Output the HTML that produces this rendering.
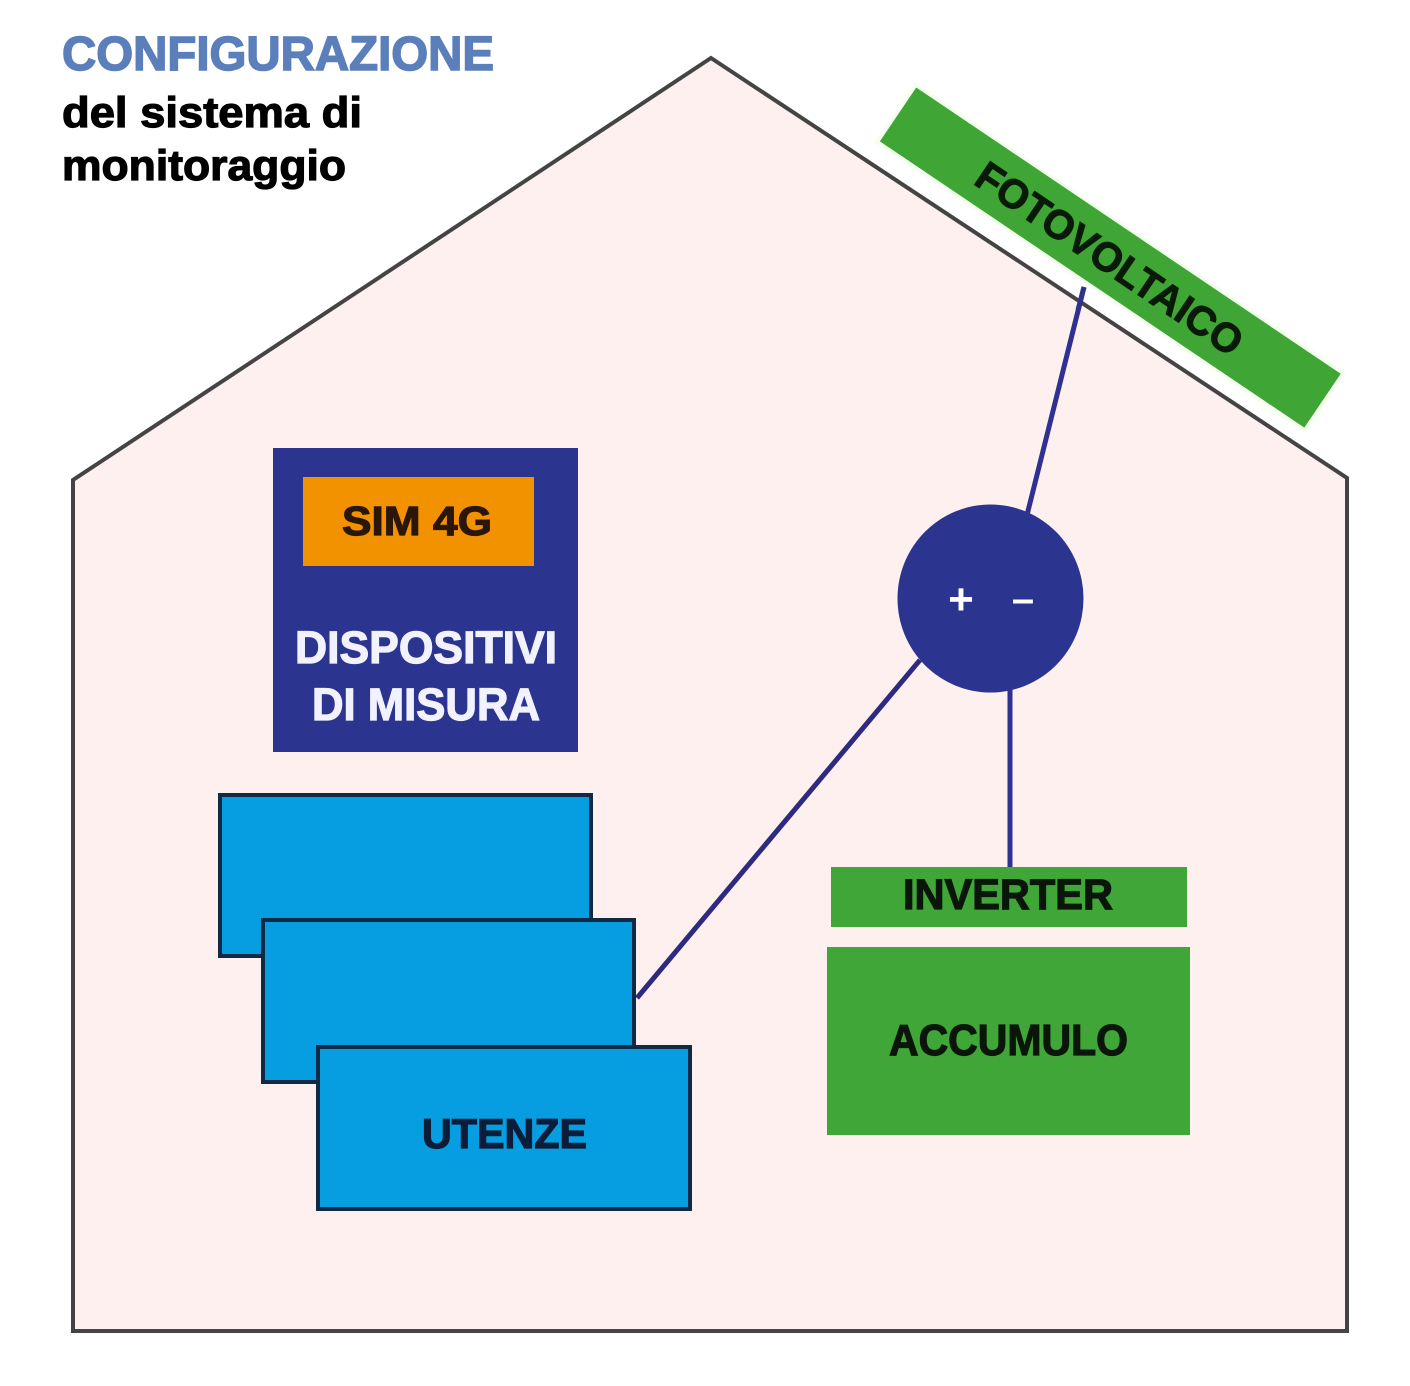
<!DOCTYPE html>
<html>
<head>
<meta charset="utf-8">
<style>
  html, body { margin:0; padding:0; background:#ffffff; }
  body { width:1410px; height:1386px; overflow:hidden; }
  svg { display:block; }
  text { font-family: "Liberation Sans", "DejaVu Sans", sans-serif; font-weight:bold; }
</style>
</head>
<body>
<svg width="1410" height="1386" viewBox="0 0 1410 1386" xmlns="http://www.w3.org/2000/svg">
  <rect x="0" y="0" width="1410" height="1386" fill="#ffffff"/>

  <!-- Title -->
  <text x="62" y="70" font-size="48" fill="#5b7fba" stroke="#5b7fba" stroke-width="1.5" textLength="432" lengthAdjust="spacingAndGlyphs">CONFIGURAZIONE</text>
  <text x="62" y="127" font-size="43" fill="#000000" stroke="#000000" stroke-width="1.2" textLength="300" lengthAdjust="spacingAndGlyphs">del sistema di</text>
  <text x="62" y="180" font-size="43" fill="#000000" stroke="#000000" stroke-width="1.2" textLength="284" lengthAdjust="spacingAndGlyphs">monitoraggio</text>

  <!-- House -->
  <polygon points="711,58 1347,478 1347,1331 73,1331 73,480" fill="#fdf0ee" stroke="#444444" stroke-width="4" stroke-linejoin="miter"/>

  <!-- Connectors -->
  <line x1="1084" y1="287" x2="1027" y2="515" stroke="#2e3192" stroke-width="5"/>
  <line x1="920" y1="660" x2="637" y2="998" stroke="#2e2a80" stroke-width="5"/>
  <line x1="1010" y1="688" x2="1010" y2="868" stroke="#2e3192" stroke-width="5"/>

  <!-- Fotovoltaico panel -->
  <g transform="translate(1110,258) rotate(34)">
    <rect x="-258" y="-35" width="516" height="69" fill="#3fa535" stroke="#f4fff0" stroke-width="4"/>
    <text x="0" y="15" font-size="41" fill="#0a1a08" stroke="#0a1a08" stroke-width="1" text-anchor="middle" textLength="312" lengthAdjust="spacingAndGlyphs">FOTOVOLTAICO</text>
  </g>
  <line x1="1084" y1="287" x2="1078" y2="310" stroke="#2e3192" stroke-width="5"/>

  <!-- Circle +/- -->
  <ellipse cx="990.5" cy="598.5" rx="93" ry="94" fill="#2b3590"/>
  <text x="961" y="614" font-size="44" fill="#ffffff" text-anchor="middle">+</text>
  <text x="1023" y="612" font-size="40" fill="#ffffff" text-anchor="middle">–</text>

  <!-- Dispositivi di misura -->
  <rect x="273" y="448" width="305" height="304" fill="#2b3590"/>
  <rect x="303" y="477" width="231" height="89" fill="#f39200"/>
  <text x="342" y="535" font-size="41" fill="#2a1708" stroke="#2a1708" stroke-width="1.2" textLength="150" lengthAdjust="spacingAndGlyphs">SIM 4G</text>
  <text x="295" y="663" font-size="45" fill="#f2f2ff" stroke="#f2f2ff" stroke-width="1.2" textLength="262" lengthAdjust="spacingAndGlyphs">DISPOSITIVI</text>
  <text x="312" y="720" font-size="45" fill="#f2f2ff" stroke="#f2f2ff" stroke-width="1.2" textLength="228" lengthAdjust="spacingAndGlyphs">DI MISURA</text>

  <!-- Utenze -->
  <rect x="220" y="795" width="371" height="161" fill="#069ee0" stroke="#0f2a45" stroke-width="4"/>
  <rect x="263" y="920" width="371" height="162" fill="#069ee0" stroke="#0f2a45" stroke-width="4"/>
  <rect x="318" y="1047" width="372" height="162" fill="#069ee0" stroke="#0f2a45" stroke-width="4"/>
  <text x="422" y="1148" font-size="42" fill="#0b1d38" stroke="#0b1d38" stroke-width="1.2" textLength="165" lengthAdjust="spacingAndGlyphs">UTENZE</text>

  <!-- Inverter / Accumulo -->
  <rect x="831" y="867" width="356" height="60" fill="#3fa637"/>
  <text x="903" y="909" font-size="43" fill="#0a160a" stroke="#0a160a" stroke-width="1.2" textLength="210" lengthAdjust="spacingAndGlyphs">INVERTER</text>
  <rect x="827" y="947" width="363" height="188" fill="#3fa637"/>
  <text x="889" y="1055" font-size="44" fill="#0a160a" stroke="#0a160a" stroke-width="1.2" textLength="239" lengthAdjust="spacingAndGlyphs">ACCUMULO</text>
</svg>
</body>
</html>
